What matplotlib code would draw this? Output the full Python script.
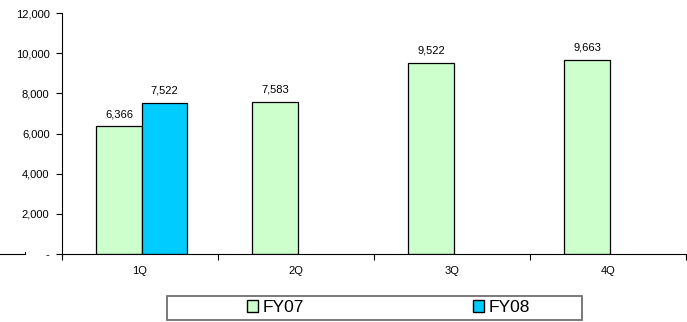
import matplotlib
matplotlib.use("Agg")
import matplotlib.pyplot as plt
from matplotlib.ticker import FuncFormatter
from matplotlib.lines import Line2D
from matplotlib.patches import Rectangle
import numpy as np

plt.rcParams['font.family'] = ['Liberation Sans', 'DejaVu Sans']

categories = ["1Q", "2Q", "3Q", "4Q"]
fy07 = [6366, 7583, 9522, 9663]
fy08 = [7522, None, None, None]
yticks = [0, 2000, 4000, 6000, 8000, 10000, 12000]

W, H = 687, 322
fig = plt.figure(figsize=(W/100, H/100), dpi=100)
ax = fig.add_axes([62/W, 1 - 254/H, (686-62)/W, (254-13)/H])

x = np.arange(len(categories))
w = 0.29
off = 0.135
ax.bar(x - off, fy07, w, color="#ccffcc", edgecolor="black", linewidth=0.9, label="FY07")
x8 = [xi + w - off for xi, v in zip(x, fy08) if v is not None]
v8 = [v for v in fy08 if v is not None]
ax.bar(x8, v8, w, color="#00ccff", edgecolor="black", linewidth=0.9, label="FY08")

for xi, v in zip(x, fy07):
    ax.text(xi - off, v + 350, f"{v:,}", ha="center", va="bottom", fontsize=8)
for xi, v in zip(x8, v8):
    ax.text(xi, v + 350, f"{v:,}", ha="center", va="bottom", fontsize=8)

ax.set_xlim(-0.5, len(categories) - 0.5)
ax.set_ylim(0, 12000)
ax.set_yticks(yticks)
ax.yaxis.set_major_formatter(FuncFormatter(lambda v, p: "-" if v == 0 else f"{int(v):,}"))
ax.set_xticks(x)
ax.set_xticklabels(categories)
ax.set_xticks(np.arange(-0.5, len(categories)), minor=True)
ax.tick_params(axis='x', which='major', length=0, labelsize=8, pad=9)
ax.tick_params(axis='x', which='minor', length=4, width=0.8, direction='out')
ax.tick_params(axis='y', length=4, width=0.8, labelsize=8, pad=5)
for s in ["top", "right"]:
    ax.spines[s].set_visible(False)
ax.spines["left"].set_linewidth(0.8)
ax.spines["bottom"].set_linewidth(0.8)

leg = fig.legend(loc="center left", bbox_to_anchor=(247/W, 1 - 307.5/H),
                 ncol=2, fontsize=12.5, frameon=False,
                 handlelength=0.62, handleheight=0.62, handletextpad=0.3, columnspacing=9.7,
                 borderpad=0, borderaxespad=0)
for h in leg.legend_handles:
    h.set_linewidth(1.0)

fig.add_artist(Rectangle((167/W, 1 - 319.5/H), (582-167)/W, (319.5-295.5)/H,
                         transform=fig.transFigure, fill=False, edgecolor="#707070", linewidth=1.3))

fig.add_artist(Line2D([0, 25/W, 25/W], [1 - 254/H, 1 - 254/H, 1 - 252/H], transform=fig.transFigure,
                      color="black", linewidth=0.8))

fig.savefig("out.png", dpi=100)
